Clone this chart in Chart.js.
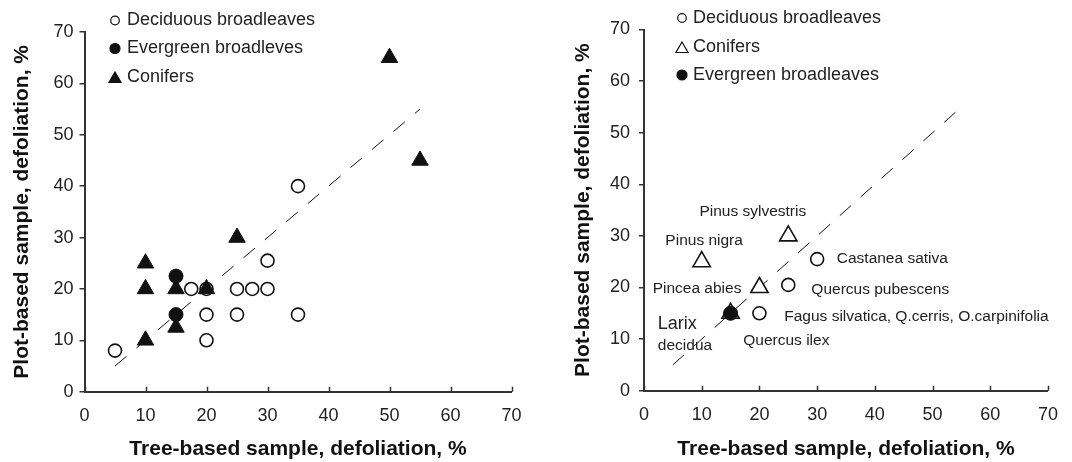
<!DOCTYPE html>
<html>
<head>
<meta charset="utf-8">
<script src="https://cdn.jsdelivr.net/npm/chart.js@4.4.1/dist/chart.umd.min.js"></script>
<style>
  html, body { margin: 0; padding: 0; background: #fff; }
  .box { position: absolute; top: 0; width: 536px; height: 462px; }
  #leftBox { left: 0; }
  #rightBox { left: 536px; }
</style>
</head>
<body>
<div class="box" id="leftBox"><canvas id="leftChart"></canvas></div>
<div class="box" id="rightBox"><canvas id="rightChart"></canvas></div>
<script>
// left panel - all plots
const leftDecidX = [5, 35, 30, 17.5, 20, 25, 27.5, 30, 20, 25, 35, 20];
const leftDecidY = [8, 40, 25.5, 20, 20, 20, 20, 20, 15, 15, 15, 10];
const leftEverX = [15, 15];
const leftEverY = [22.5, 15];
const leftConX = [10, 10, 10, 15, 15, 20, 25, 50, 55];
const leftConY = [25, 20, 10, 20, 12.5, 20, 30, 65, 45];

// right panel - species
const rightDecidX = [30, 25, 20];
const rightDecidY = [25.5, 20.5, 15];
const rightConX = [25, 10, 20, 15];
const rightConY = [30, 25, 20, 15];
const rightEverX = [15];
const rightEverY = [15];

// 1:1 line
const lineX = [5, 55];
const lineY = [5, 55];

const axisTicks = [0, 10, 20, 30, 40, 50, 60, 70];
const xTitle = 'Tree-based sample, defoliation, %';
const yTitle = 'Plot-based sample, defoliation, %';

const speciesNames = ['Pinus sylvestris', 'Pinus nigra', 'Castanea sativa', 'Pincea abies', 'Quercus pubescens',
  'Fagus silvatica, Q.cerris, O.carpinifolia', 'Larix', 'decidua', 'Quercus ilex'];
// label start, in data units
const speciesAtX = [9.6, 3.7, 33.4, 1.5, 29, 24.3, 2.4, 2.4, 17.2];
const speciesAtY = [34.6, 29, 25.5, 19.7, 19.5, 14.3, 12.9, 8.7, 9.6];

const FONT = "'Liberation Sans', Arial, Helvetica, sans-serif";
Chart.defaults.font.family = FONT;
Chart.defaults.color = '#222';

const pts = (xs, ys) => xs.map((x, i) => ({ x: x, y: ys[i] }));

function openCircles(label, xs, ys) {
  return { label: label, data: pts(xs, ys), pointStyle: 'circle', pointRadius: 6.5, borderWidth: 1.6,
    borderColor: '#111', backgroundColor: '#fff', order: 2 };
}
function dots(label, xs, ys) {
  return { label: label, data: pts(xs, ys), pointStyle: 'circle', pointRadius: 7, borderWidth: 1,
    borderColor: '#111', backgroundColor: '#111', order: 0 };
}
function triangles(label, xs, ys, filled) {
  return { label: label, data: pts(xs, ys), pointStyle: 'triangle', pointRadius: filled ? 9.5 : 10,
    borderWidth: filled ? 1 : 1.6, borderColor: '#111', backgroundColor: filled ? '#111' : '#fff', order: 1 };
}
function oneToOne() {
  return { type: 'line', data: pts(lineX, lineY), borderColor: '#111', borderWidth: 1, borderDash: [15, 13],
    pointRadius: 0, fill: false, order: 3 };
}

// x tick marks point up into the plot
const innerTicks = {
  id: 'innerTicks',
  afterDraw(chart) {
    const sx = chart.scales.x, ctx = chart.ctx;
    ctx.save();
    ctx.strokeStyle = '#333';
    ctx.lineWidth = 1.5;
    ctx.beginPath();
    sx.ticks.forEach(t => {
      const px = Math.round(sx.getPixelForValue(t.value)) + 0.5;
      ctx.moveTo(px, sx.top);
      ctx.lineTo(px, sx.top - 5);
    });
    ctx.stroke();
    ctx.restore();
  }
};

const keyLegend = {
  id: 'keyLegend',
  afterDraw(chart, args, opts) {
    if (!opts || !opts.ys) return;
    const ctx = chart.ctx;
    const items = chart.data.datasets.filter(d => d.label);
    ctx.save();
    ctx.font = '18px ' + FONT;
    ctx.textBaseline = 'middle';
    ctx.textAlign = 'left';
    items.forEach((d, i) => {
      const y = opts.ys[i];
      const tri = d.pointStyle === 'triangle';
      const r = tri ? 7 : (d.backgroundColor === '#fff' ? 4.3 : 5);
      ctx.fillStyle = d.backgroundColor;
      ctx.strokeStyle = d.borderColor;
      ctx.lineWidth = 1.2;
      Chart.helpers.drawPoint(ctx, { pointStyle: d.pointStyle, radius: r, borderWidth: 1.2, rotation: 0 },
        opts.markerX, tri ? y + 2 : y);
      ctx.fillStyle = '#222';
      ctx.fillText(d.label, opts.textX, y);
    });
    ctx.restore();
  }
};

const speciesText = {
  id: 'speciesText',
  afterDraw(chart, args, opts) {
    if (!opts || !opts.show) return;
    const ctx = chart.ctx, sx = chart.scales.x, sy = chart.scales.y;
    ctx.save();
    ctx.fillStyle = '#222';
    ctx.textBaseline = 'middle';
    ctx.textAlign = 'left';
    speciesNames.forEach((name, i) => {
      ctx.font = (name === 'Larix' ? '18px ' : '15.5px ') + FONT;
      ctx.fillText(name, sx.getPixelForValue(speciesAtX[i]), sy.getPixelForValue(speciesAtY[i]));
    });
    ctx.restore();
  }
};

function makeChart(id, datasets, cfg) {
  return new Chart(document.getElementById(id), {
    type: 'scatter',
    data: { datasets: datasets },
    options: {
      responsive: true,
      maintainAspectRatio: false,
      animation: false,
      events: [],
      layout: { padding: { top: cfg.top, right: cfg.right, left: 0, bottom: 0 } },
      plugins: {
        legend: { display: false },
        tooltip: { enabled: false },
        keyLegend: cfg.legend,
        speciesText: { show: cfg.species }
      },
      scales: {
        x: {
          type: 'linear', min: 0, max: 70,
          afterBuildTicks: s => { s.ticks = axisTicks.map(v => ({ value: v })); },
          ticks: { font: { size: 18 }, padding: 14, color: '#222' },
          grid: { display: false, drawTicks: false },
          border: { display: true, color: '#333', width: 2 },
          title: { display: true, text: xTitle, font: { size: 21, weight: 'bold' }, color: '#111',
            padding: { top: 0, bottom: 0 } },
          afterFit: s => { s.height = cfg.xHeight; }
        },
        y: {
          type: 'linear', min: 0, max: 70,
          afterBuildTicks: s => { s.ticks = axisTicks.map(v => ({ value: v })); },
          ticks: { font: { size: 18 }, padding: cfg.yPad, color: '#222' },
          grid: { drawOnChartArea: false, drawTicks: true, tickLength: 5, color: '#333', lineWidth: 1.5 },
          border: { display: true, color: '#333', width: 2 },
          title: { display: true, text: yTitle, font: { size: 21, weight: 'bold' }, color: '#111',
            padding: { top: cfg.yTitlePad, bottom: 0 } },
          afterFit: s => { s.width = cfg.yWidth; }
        }
      }
    },
    plugins: [innerTicks, keyLegend, speciesText]
  });
}

makeChart('leftChart', [
  openCircles('Deciduous broadleaves', leftDecidX, leftDecidY),
  dots('Evergreen broadleves', leftEverX, leftEverY),
  triangles('Conifers', leftConX, leftConY, true),
  oneToOne()
], { top: 32, right: 24.5, xHeight: 70.3, yWidth: 84.5, yPad: 6, yTitlePad: 10,
     legend: { markerX: 115, textX: 127, ys: [20.5, 48.5, 77] }, species: false });

makeChart('rightChart', [
  openCircles('Deciduous broadleaves', rightDecidX, rightDecidY),
  triangles('Conifers', rightConX, rightConY, false),
  dots('Evergreen broadleaves', rightEverX, rightEverY),
  oneToOne()
], { top: 29.5, right: 12.7, xHeight: 71.3, yWidth: 108, yPad: 9, yTitlePad: 34.4,
     legend: { markerX: 146, textX: 157, ys: [18, 47, 75] }, species: true });
</script>
</body>
</html>
